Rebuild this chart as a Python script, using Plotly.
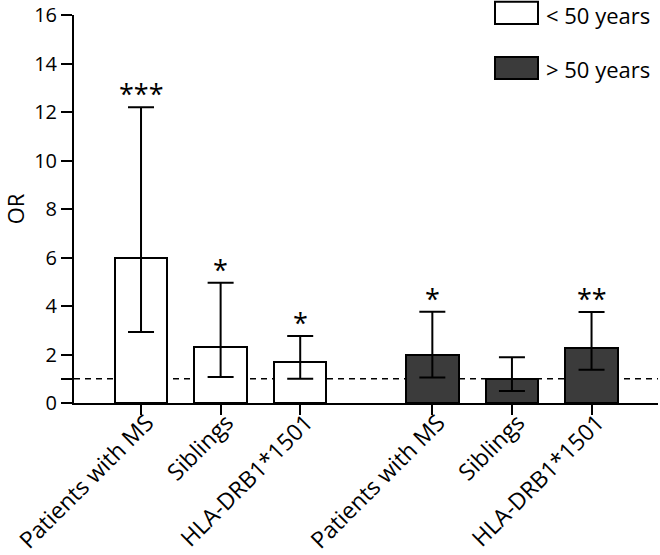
import plotly.graph_objects as go

# ---- data ----
categories = ["Patients with MS", "Siblings", "HLA-DRB1*1501"]
groups = ["< 50 years", "> 50 years"]
or_young = [6.0, 2.3, 1.68]
ci_low_young = [2.93, 1.07, 1.0]
ci_high_young = [12.2, 4.96, 2.76]
stars_young = ["***", "*", "*"]
or_old = [2.0, 1.0, 2.27]
ci_low_old = [1.05, 0.5, 1.37]
ci_high_old = [3.76, 1.89, 3.75]
stars_old = ["*", "", "**"]
reference_or = 1
y_ticks = [0, 1, 2, 4, 6, 8, 10, 12, 14, 16]

# ---- layout helpers ----
W, H = 660, 555
ML, MR, MT, MB = 74, 2, 15, 152
GROUP_OFFSET = 3.66
FONT = "Open Sans"
DARK = "#3b3b3b"

x_young = [i for i in range(len(categories))]
x_old = [i + GROUP_OFFSET for i in range(len(categories))]

def px_x(px):
    return (px - ML) / (W - ML - MR)

def px_y(py):
    return (H - MB - py) / (H - MT - MB)

fig = go.Figure()

def add_group(xs, vals, lo, hi, fill, name):
    fig.add_trace(go.Bar(
        x=xs, y=vals, name=name, width=0.66,
        marker=dict(color=fill, line=dict(color="black", width=2)),
        error_y=dict(type="data", symmetric=False,
                     array=[h - v for h, v in zip(hi, vals)],
                     arrayminus=[v - l for v, l in zip(vals, lo)],
                     color="black", thickness=2, width=13),
        showlegend=False, hoverinfo="skip",
    ))

add_group(x_young, or_young, ci_low_young, ci_high_young, "white", groups[0])
add_group(x_old, or_old, ci_low_old, ci_high_old, DARK, groups[1])

# significance stars
for xs, hi, st in [(x_young, ci_high_young, stars_young), (x_old, ci_high_old, stars_old)]:
    for x, h, s in zip(xs, hi, st):
        if s:
            fig.add_annotation(x=x, y=h, text=s, showarrow=False, yanchor="bottom",
                               yshift=-7, font=dict(family=FONT, size=27, color="black"))

# reference line
fig.add_shape(type="line", xref="paper", yref="y", x0=0, x1=1, y0=reference_or, y1=reference_or,
              line=dict(color="black", width=1.5, dash="6px,5px"), layer="below")

# manual legend
legend_items = [(groups[0], "white", 1.7, 24, 15), (groups[1], DARK, 57, 79, 69)]
for label, fill, top, bot, text_y in legend_items:
    fig.add_shape(type="rect", xref="paper", yref="paper",
                  x0=px_x(495), x1=px_x(538), y0=px_y(bot), y1=px_y(top),
                  fillcolor=fill, line=dict(color="black", width=2))
    fig.add_annotation(xref="paper", yref="paper", x=px_x(545), y=px_y(text_y),
                       text=label, showarrow=False, xanchor="left", yanchor="middle",
                       borderpad=0,
                       font=dict(family=FONT, size=22, color="black"))

fig.update_layout(
    width=W, height=H,
    margin=dict(l=ML, r=MR, t=MT, b=MB, autoexpand=False),
    plot_bgcolor="white", paper_bgcolor="white",
    font=dict(family=FONT, size=20, color="black"),
    showlegend=False,
    bargap=0,
)
fig.update_xaxes(
    range=[-0.842, 6.495], automargin=False,
    tickvals=x_young + x_old, ticktext=categories + categories,
    tickangle=-45, ticks="outside", ticklen=10, tickwidth=2, tickcolor="black",
    ticklabelstandoff=-15, ticklabelshift=6,
    showline=True, linecolor="black", linewidth=2, showgrid=False, zeroline=False,
    tickfont=dict(family=FONT, size=23, color="black"),
)
fig.update_yaxes(
    range=[0, 16], automargin=False,
    tickvals=y_ticks, ticktext=[("" if t == 1 else str(t)) for t in y_ticks],
    ticks="outside", ticklen=11, tickwidth=2, tickcolor="black",
    showline=True, linecolor="black", linewidth=2, showgrid=False, zeroline=False,
    title=dict(text="OR", standoff=12, font=dict(family=FONT, size=22, color="black")),
    tickfont=dict(family=FONT, size=20, color="black"),
)

fig.write_html("out.html", config={"displayModeBar": False},
               post_script="document.body.style.margin='0';")
